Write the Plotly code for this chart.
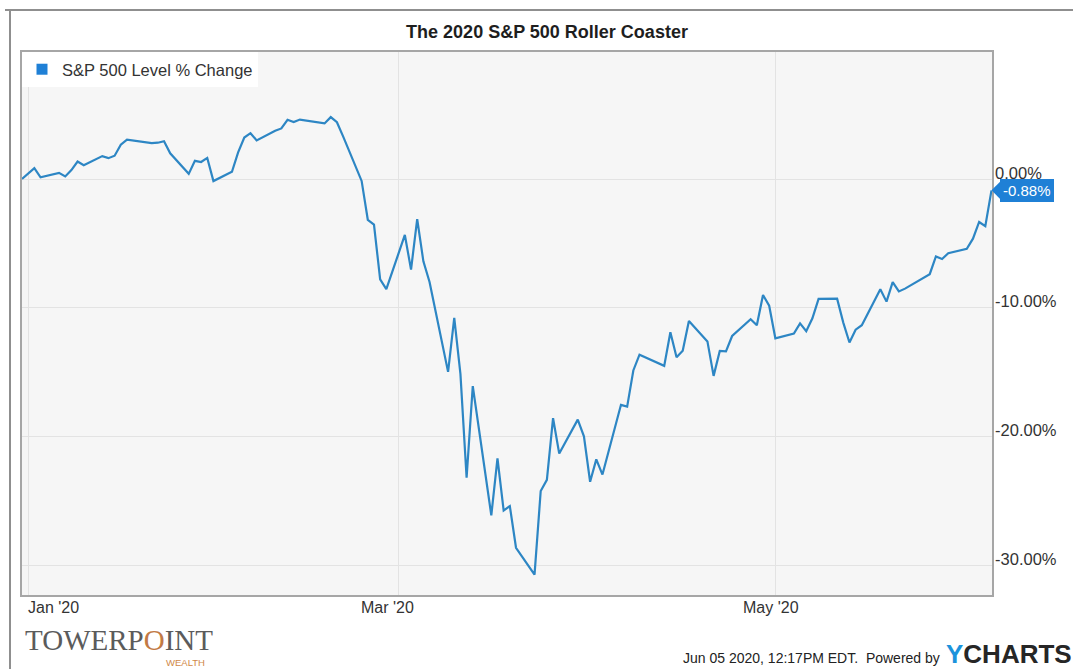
import plotly.graph_objects as go

# ---------------- data ----------------
dates = [
    "2019-12-31",
    "2020-01-02", "2020-01-03", "2020-01-06", "2020-01-07", "2020-01-08", "2020-01-09", "2020-01-10",
    "2020-01-13", "2020-01-14", "2020-01-15", "2020-01-16", "2020-01-17",
    "2020-01-21", "2020-01-22", "2020-01-23", "2020-01-24",
    "2020-01-27", "2020-01-28", "2020-01-29", "2020-01-30", "2020-01-31",
    "2020-02-03", "2020-02-04", "2020-02-05", "2020-02-06", "2020-02-07",
    "2020-02-10", "2020-02-11", "2020-02-12", "2020-02-13", "2020-02-14",
    "2020-02-18", "2020-02-19", "2020-02-20", "2020-02-21",
    "2020-02-24", "2020-02-25", "2020-02-26", "2020-02-27", "2020-02-28",
    "2020-03-02", "2020-03-03", "2020-03-04", "2020-03-05", "2020-03-06",
    "2020-03-09", "2020-03-10", "2020-03-11", "2020-03-12", "2020-03-13",
    "2020-03-16", "2020-03-17", "2020-03-18", "2020-03-19", "2020-03-20",
    "2020-03-23", "2020-03-24", "2020-03-25", "2020-03-26", "2020-03-27",
    "2020-03-30", "2020-03-31", "2020-04-01", "2020-04-02", "2020-04-03",
    "2020-04-06", "2020-04-07", "2020-04-08", "2020-04-09",
    "2020-04-13", "2020-04-14", "2020-04-15", "2020-04-16", "2020-04-17",
    "2020-04-20", "2020-04-21", "2020-04-22", "2020-04-23", "2020-04-24",
    "2020-04-27", "2020-04-28", "2020-04-29", "2020-04-30", "2020-05-01",
    "2020-05-04", "2020-05-05", "2020-05-06", "2020-05-07", "2020-05-08",
    "2020-05-11", "2020-05-12", "2020-05-13", "2020-05-14", "2020-05-15",
    "2020-05-18", "2020-05-19", "2020-05-20", "2020-05-21", "2020-05-22",
    "2020-05-26", "2020-05-27", "2020-05-28", "2020-05-29",
    "2020-06-01", "2020-06-02", "2020-06-03", "2020-06-04", "2020-06-05",
]

pct_change = [
    0.00,
    0.84, 0.13, 0.48, 0.20, 0.69, 1.36, 1.07,
    1.78, 1.62, 1.81, 2.66, 3.06,
    2.79, 2.82, 2.93, 2.00,
    0.40, 1.41, 1.32, 1.64, -0.16,
    0.56, 2.07, 3.22, 3.56, 3.00,
    3.75, 3.93, 4.60, 4.43, 4.62,
    4.32, 4.81, 4.41, 3.31,
    -0.15, -3.17, -3.54, -7.80, -8.56,
    -4.35, -7.04, -3.12, -6.40, -8.00,
    -14.99, -10.79, -15.15, -23.22, -16.09,
    -26.14, -21.72, -25.77, -25.42, -28.66,
    -30.75, -24.25, -23.38, -18.59, -21.34,
    -18.70, -20.00, -23.53, -21.79, -22.97,
    -17.55, -17.69, -14.88, -13.65,
    -14.52, -11.91, -13.85, -13.35, -11.03,
    -12.62, -15.30, -13.36, -13.40, -12.20,
    -10.90, -11.37, -9.02, -9.85, -12.38,
    -12.01, -11.22, -11.83, -10.82, -9.32,
    -9.30, -11.16, -12.71, -11.71, -11.36,
    -8.57, -9.53, -8.02, -8.74, -8.52,
    -7.40, -6.02, -6.22, -5.77,
    -5.42, -4.64, -3.34, -3.67, -0.88,
]

series_name = "S&P 500 Level % Change"
x_tick_dates = ["2020-01-01", "2020-03-01", "2020-05-01"]
x_tick_labels = ["Jan '20", "Mar '20", "May '20"]
y_tick_values = [0, -10, -20, -30]
y_tick_labels = ["0.00%", "-10.00%", "-20.00%", "-30.00%"]

# ---------------- layout geometry (pixels) ----------------
W, H = 1073, 669
L, R, T, B = 22, 992, 52, 595


def px(x):
    return (x - L) / (R - L)


def py(y):
    return (B - y) / (B - T)


FONT = "Arial, Liberation Sans, Helvetica, sans-serif"
LINE_COLOR = "#2d86c4"

fig = go.Figure()
fig.add_trace(go.Scatter(
    x=dates, y=pct_change, mode="lines",
    line=dict(color=LINE_COLOR, width=2.2),
    showlegend=False, hoverinfo="x+y",
))
# legend entry shown as a square swatch, as in the original
fig.add_trace(go.Scatter(
    x=[None], y=[None], mode="markers", name=series_name,
    marker=dict(symbol="square", size=11, color="#1f80d6"),
    showlegend=True,
))

fig.update_layout(
    width=W, height=H,
    margin=dict(l=L, r=W - R, t=T, b=H - B),
    paper_bgcolor="white",
    plot_bgcolor="#f6f6f6",
    title=dict(
        text="<b>The 2020 S&P 500 Roller Coaster</b>",
        x=px(547), xref="paper", xanchor="center",
        y=1 - 32 / H, yref="container", yanchor="middle",
        font=dict(family=FONT, size=18, color="#1e1e1e"),
    ),
    legend=dict(
        x=0, y=1, xanchor="left", yanchor="top",
        bgcolor="white", borderwidth=0,
        font=dict(family=FONT, size=16.5, color="#333333"),
        itemwidth=30,
    ),
    showlegend=True,
)

fig.update_xaxes(
    type="date",
    range=["2019-12-31", "2020-06-05 02:00"],
    tickvals=x_tick_dates,
    showticklabels=False,
    showgrid=True, gridcolor="#e3e3e3", gridwidth=1,
    showline=True, linecolor="#a6a6a6", linewidth=1.5, mirror=True,
    zeroline=False, ticks="",
)
fig.update_yaxes(
    range=[-32.33, 9.87],
    side="right",
    tickvals=y_tick_values, ticktext=y_tick_labels,
    tickfont=dict(family=FONT, size=16.5, color="#333333"),
    ticks="", ticklabelstandoff=-2, ticklabelshift=-6,
    showgrid=True, gridcolor="#e3e3e3", gridwidth=1,
    showline=True, linecolor="#a6a6a6", linewidth=1.5, mirror=True,
    zeroline=False,
)

# x-axis labels (Jan label justified inside the plot, like the original)
anchors = ["left", "center", "center"]
shifts = [-2, -11, -4]
for d, lab, anc, sh in zip(x_tick_dates, x_tick_labels, anchors, shifts):
    fig.add_annotation(
        x=d, xref="x", y=0, yref="paper", yanchor="top", yshift=-2,
        xanchor=anc, xshift=sh, text=lab, showarrow=False,
        font=dict(family=FONT, size=16, color="#333333"),
    )

# last-value flag
fig.add_annotation(
    x=dates[-1], y=pct_change[-1], xref="x", yref="y",
    text=f"{pct_change[-1]:.2f}%",
    showarrow=True, arrowhead=1, arrowwidth=2, arrowsize=1.6,
    arrowcolor="#1f80d6", standoff=0,
    ax=9, ay=0, axref="pixel", ayref="pixel",
    xanchor="left", yanchor="middle",
    bgcolor="#1f80d6", bordercolor="#1f80d6", borderpad=1, borderwidth=2,
    font=dict(family=FONT, size=15, color="white"),
)

# outer frame lines of the screenshot
fig.add_shape(type="line", xref="paper", yref="paper",
              x0=px(5), x1=px(W), y0=py(10), y1=py(10),
              line=dict(color="#8f8f8f", width=2))
fig.add_shape(type="line", xref="paper", yref="paper",
              x0=px(10), x1=px(10), y0=py(10), y1=py(H),
              line=dict(color="#8f8f8f", width=2))

# footer: logo on the left, timestamp and YCharts on the right
fig.add_annotation(
    x=px(23), y=py(640), xref="paper", yref="paper",
    xanchor="left", yanchor="middle", showarrow=False,
    text="TOWERP<span style='color:#c27a45'>O</span>INT",
    font=dict(family="Liberation Serif, Times New Roman, serif", size=29, color="#5b5b5b"),
)
fig.add_annotation(
    x=px(164), y=py(662), xref="paper", yref="paper",
    xanchor="left", yanchor="middle", showarrow=False,
    text="WEALTH",
    font=dict(family=FONT, size=9.5, color="#d08848"),
)
fig.add_annotation(
    x=px(942), y=py(658), xref="paper", yref="paper",
    xanchor="right", yanchor="middle", showarrow=False,
    text="Jun 05 2020, 12:17PM EDT.  Powered by",
    font=dict(family=FONT, size=14, color="#222222"),
)
fig.add_annotation(
    x=px(944), y=py(654), xref="paper", yref="paper",
    xanchor="left", yanchor="middle", showarrow=False,
    text="<b><span style='color:#1b93dc'>Y</span>CHARTS</b>",
    font=dict(family=FONT, size=26, color="#262626"),
)

fig.write_html("out.html")
